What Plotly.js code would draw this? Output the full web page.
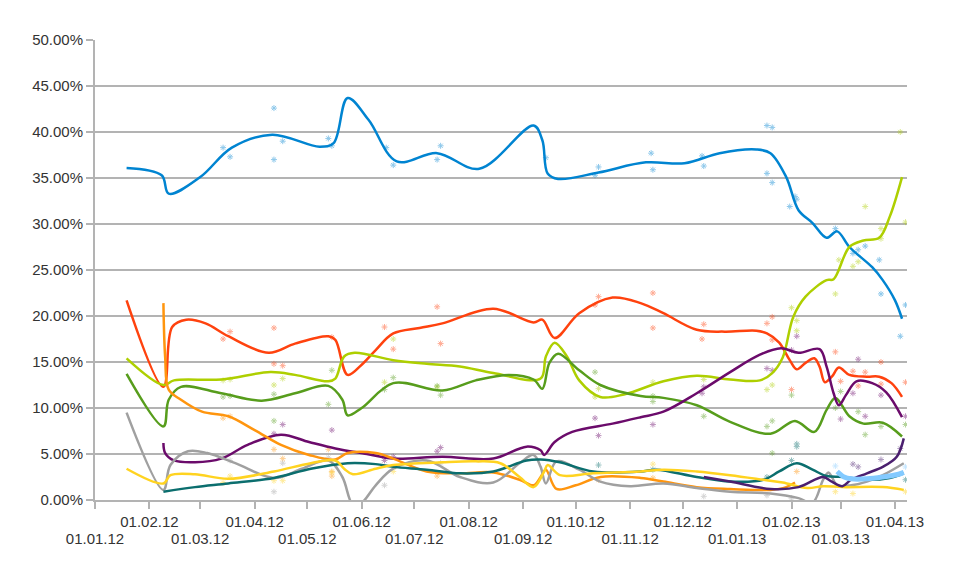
<!DOCTYPE html>
<html>
<head>
<meta charset="utf-8">
<script src="https://cdn.plot.ly/plotly-3.0.1.min.js"></script>
<style>
html,body{margin:0;padding:0;background:#fff;}
#chart{width:960px;height:577px;}
</style>
</head>
<body>
<div id="chart"></div>
<script>
// ---- tick labels ----
const tickDatesUpper = ['2012-02-01','2012-04-01','2012-06-01','2012-08-01','2012-10-01','2012-12-01','2013-02-01','2013-04-01'];
const tickLabelsUpper = ['01.02.12','01.04.12','01.06.12','01.08.12','01.10.12','01.12.12','01.02.13','01.04.13'];
const tickDatesLower = ['2012-01-01','2012-03-01','2012-05-01','2012-07-01','2012-09-01','2012-11-01','2013-01-01','2013-03-01'];
const tickLabelsLower = ['01.01.12','01.03.12','01.05.12','01.07.12','01.09.12','01.11.12','01.01.13','01.03.13'];
const yTicks = [0,5,10,15,20,25,30,35,40,45,50];
const yTickLabels = ['0.00%','5.00%','10.00%','15.00%','20.00%','25.00%','30.00%','35.00%','40.00%','45.00%','50.00%'];

// ---- smoothed trend lines ----
const blueDates = ['2012-01-19','2012-02-08','2012-02-12','2012-03-01','2012-03-19','2012-04-11','2012-05-08','2012-05-16','2012-05-24','2012-06-05','2012-06-21','2012-07-14','2012-08-07','2012-09-07','2012-09-12','2012-09-15','2012-09-21','2012-10-14','2012-11-10','2012-12-02','2012-12-22','2013-01-12','2013-01-20','2013-01-29','2013-02-05','2013-02-13','2013-02-21','2013-02-27','2013-03-06','2013-03-19','2013-03-25','2013-04-01','2013-04-05'];
const blueValues = [36.1,35.3,33.3,35.1,38.3,39.7,38.4,38.8,43.7,41.3,36.8,37.7,36.0,40.7,39.1,35.5,34.9,35.6,36.7,36.6,37.7,38.1,37.7,35.1,31.5,30.1,28.5,29.2,27.5,25.3,23.9,21.7,19.7];

const redDates = ['2012-01-19','2012-02-09','2012-02-14','2012-02-22','2012-03-04','2012-03-17','2012-04-09','2012-04-24','2012-05-13','2012-05-17','2012-05-24','2012-06-01','2012-06-09','2012-06-19','2012-07-04','2012-07-17','2012-08-15','2012-09-07','2012-09-12','2012-09-19','2012-10-03','2012-10-22','2012-11-07','2012-11-20','2012-12-09','2012-12-25','2013-01-12','2013-01-18','2013-01-25','2013-01-31','2013-02-04','2013-02-09','2013-02-14','2013-02-17','2013-02-20','2013-02-24','2013-02-28','2013-03-06','2013-03-16','2013-03-23','2013-03-30','2013-04-05'];
const redValues = [21.7,12.3,18.8,19.6,19.2,17.8,16.0,17.0,17.8,17.4,13.6,14.7,16.3,18.1,18.7,19.2,20.8,19.3,19.6,17.6,20.3,22.0,21.4,20.3,18.5,18.3,18.4,18.1,17.1,15.2,14.2,14.9,15.4,14.5,12.8,13.4,14.4,13.6,13.4,13.4,12.7,11.2];

const limeDates = ['2012-01-19','2012-02-09','2012-02-15','2012-03-13','2012-04-10','2012-04-24','2012-05-13','2012-05-17','2012-05-22','2012-05-28','2012-06-19','2012-07-08','2012-07-27','2012-08-15','2012-09-11','2012-09-14','2012-09-19','2012-09-26','2012-10-03','2012-10-15','2012-10-29','2012-11-20','2012-12-09','2012-12-28','2013-01-14','2013-01-21','2013-01-27','2013-02-02','2013-02-09','2013-02-21','2013-02-25','2013-03-06','2013-03-14','2013-03-23','2013-03-29','2013-04-05'];
const limeValues = [15.4,12.5,13.0,13.1,13.9,13.6,12.9,13.2,15.6,16.0,15.2,14.8,14.5,13.8,13.2,15.6,17.1,15.6,13.0,11.2,11.5,12.9,13.5,13.1,13.0,13.8,15.5,19.9,22.1,23.9,24.0,27.5,28.2,28.5,30.8,35.1];

const greenDates = ['2012-01-19','2012-02-09','2012-02-12','2012-02-19','2012-03-13','2012-04-05','2012-04-24','2012-05-13','2012-05-21','2012-05-24','2012-06-01','2012-06-19','2012-07-17','2012-08-05','2012-08-24','2012-09-07','2012-09-12','2012-09-16','2012-09-21','2012-10-03','2012-10-15','2012-11-07','2012-11-20','2012-12-09','2012-12-28','2013-01-20','2013-02-03','2013-02-14','2013-02-21','2013-02-26','2013-03-06','2013-03-14','2013-03-25','2013-04-05'];
const greenValues = [13.7,8.0,10.9,12.3,11.6,10.8,11.6,12.4,10.9,9.2,10.0,12.7,11.9,13.0,13.6,13.1,12.1,14.9,15.9,14.1,12.5,11.3,11.1,10.3,8.5,7.2,8.6,7.4,9.8,11.1,9.1,8.3,8.4,6.9];

const purpleDates = ['2012-02-09','2012-02-10','2012-02-15','2012-02-27','2012-03-13','2012-03-28','2012-04-16','2012-05-02','2012-05-17','2012-06-04','2012-06-19','2012-07-17','2012-08-15','2012-09-03','2012-09-11','2012-09-13','2012-09-19','2012-09-29','2012-10-22','2012-11-07','2012-11-20','2012-12-09','2012-12-28','2013-01-14','2013-01-26','2013-02-05','2013-02-17','2013-02-21','2013-02-25','2013-02-28','2013-03-04','2013-03-10','2013-03-19','2013-03-27','2013-04-05'];
const purpleValues = [6.2,5.1,4.3,4.1,4.5,6.0,7.1,6.3,5.6,5.0,4.5,4.7,4.5,5.8,5.4,4.9,6.3,7.4,8.3,9.0,9.6,11.6,13.9,15.8,16.5,16.0,16.4,14.5,11.6,10.3,11.4,12.9,12.7,11.7,9.0];

const plumDates = ['2012-12-13','2012-12-28','2013-01-20','2013-02-05','2013-02-19','2013-02-24','2013-03-02','2013-03-07','2013-03-16','2013-03-25','2013-04-02','2013-04-06'];
const plumValues = [2.5,2.0,1.2,1.4,2.5,2.0,1.5,2.2,2.9,3.6,4.7,6.7];

const orangeDates = ['2012-02-09','2012-02-10','2012-02-12','2012-02-19','2012-03-02','2012-03-17','2012-04-01','2012-04-16','2012-05-02','2012-05-17','2012-05-24','2012-06-09','2012-06-19','2012-07-08','2012-07-27','2012-08-15','2012-08-30','2012-09-07','2012-09-11','2012-09-14','2012-09-20','2012-10-01','2012-10-15','2012-11-07','2012-11-20','2012-12-09','2012-12-28','2013-01-20','2013-01-29','2013-02-03'];
const orangeValues = [21.4,15.5,12.0,10.9,9.6,9.1,7.6,6.0,4.9,4.4,5.1,5.1,4.5,3.1,2.9,3.0,2.2,1.6,2.5,3.3,1.2,1.6,2.5,2.4,2.0,1.4,1.2,1.1,1.4,1.9];

const grayDates = ['2012-01-19','2012-02-09','2012-02-13','2012-02-23','2012-03-05','2012-03-21','2012-04-12','2012-04-28','2012-05-13','2012-05-21','2012-05-27','2012-06-01','2012-06-09','2012-06-19','2012-07-08','2012-07-27','2012-08-15','2012-08-30','2012-09-07','2012-09-11','2012-09-14','2012-09-20','2012-10-03','2012-10-15','2012-11-01','2012-11-20','2012-12-09','2012-12-28','2013-01-20','2013-02-05','2013-02-13','2013-02-19','2013-02-22','2013-02-24','2013-02-27','2013-03-07','2013-03-16','2013-03-25','2013-04-06'];
const grayValues = [9.5,1.1,3.8,5.3,5.1,4.0,2.4,3.4,4.3,2.5,-0.5,-0.3,1.6,3.4,4.3,2.5,1.9,4.0,4.9,3.6,1.8,4.2,3.3,2.0,1.5,1.8,1.3,0.9,0.7,0.2,-0.3,2.2,3.0,2.5,1.6,1.6,2.0,2.7,4.0];

const tealDates = ['2012-02-09','2012-02-27','2012-03-17','2012-04-12','2012-05-03','2012-05-24','2012-06-09','2012-06-19','2012-07-08','2012-07-27','2012-08-15','2012-09-03','2012-09-11','2012-09-22','2012-10-11','2012-11-07','2012-11-16','2012-12-09','2012-12-28','2013-01-16','2013-01-25','2013-02-04','2013-02-13','2013-02-21','2013-03-03','2013-03-16','2013-03-29','2013-04-06'];
const tealValues = [0.9,1.4,1.8,2.4,3.4,4.0,3.9,3.6,3.3,2.9,3.1,4.3,4.4,4.1,3.1,3.1,3.3,2.5,2.0,2.2,3.1,4.0,3.3,2.6,2.5,2.2,2.4,2.9];

const yellowDates = ['2012-01-19','2012-02-09','2012-02-13','2012-02-27','2012-03-17','2012-04-12','2012-05-03','2012-05-17','2012-05-22','2012-05-27','2012-06-09','2012-06-19','2012-07-17','2012-08-05','2012-08-19','2012-08-30','2012-09-07','2012-09-13','2012-09-15','2012-09-22','2012-10-11','2012-11-07','2012-11-20','2012-12-09','2012-12-28','2013-01-16','2013-01-27','2013-02-10','2013-02-19','2013-03-02','2013-03-25','2013-04-06'];
const yellowValues = [3.4,1.8,2.7,2.8,2.3,3.1,4.0,4.3,3.4,2.8,3.4,3.8,4.1,4.2,4.0,2.5,1.4,3.1,3.8,2.7,2.9,3.1,3.3,3.1,2.7,2.2,1.9,1.3,1.5,1.4,1.4,1.1];

const skyDates = ['2013-02-27','2013-03-03','2013-03-07','2013-03-16','2013-03-25','2013-04-03','2013-04-06'];
const skyValues = [3.1,2.5,2.3,2.3,2.5,2.8,3.0];

// ---- individual poll results (asterisks) ----
const bluePollDates = ['2012-03-14','2012-03-18','2012-04-12','2012-04-12','2012-04-17','2012-05-13','2012-05-15','2012-06-15','2012-06-19','2012-07-14','2012-07-16','2012-09-14','2012-10-12','2012-10-14','2012-11-13','2012-11-14','2012-12-12','2012-12-13','2013-01-18','2013-01-21','2013-01-18','2013-01-21','2013-01-31','2013-02-03','2013-02-04','2013-02-26','2013-03-08','2013-03-11','2013-03-15','2013-03-23','2013-03-24','2013-04-04','2013-04-07'];
const bluePollValues = [38.3,37.3,42.6,37.0,39.0,39.3,38.5,38.3,36.4,37.0,38.5,37.2,35.3,36.2,37.7,35.9,37.4,36.3,40.7,40.5,35.5,34.5,31.9,33.0,32.7,29.5,26.8,27.2,27.6,26.1,22.4,17.8,21.2];

const redPollDates = ['2012-03-14','2012-03-18','2012-04-12','2012-04-12','2012-04-17','2012-05-15','2012-06-14','2012-06-19','2012-07-14','2012-07-16','2012-10-12','2012-10-14','2012-11-14','2012-11-14','2012-12-12','2012-12-13','2013-01-18','2013-01-21','2013-01-21','2013-02-01','2013-02-26','2013-03-01','2013-03-08','2013-03-11','2013-03-15','2013-03-24','2013-03-24','2013-04-07'];
const redPollValues = [17.5,18.3,18.7,14.8,14.6,17.7,18.8,16.4,21.0,17.0,21.2,22.1,22.5,18.7,17.5,19.1,19.2,19.9,17.4,12.0,16.1,12.9,14.0,12.4,13.9,15.0,12.6,12.8];

const limePollDates = ['2012-03-14','2012-03-18','2012-04-12','2012-04-17','2012-06-14','2012-06-19','2012-07-14','2012-10-12','2012-10-14','2012-11-14','2012-12-13','2013-01-18','2013-01-21','2013-02-01','2013-02-04','2013-02-04','2013-02-26','2013-02-28','2013-03-08','2013-03-11','2013-03-15','2013-03-24','2013-03-24','2013-04-04','2013-04-07'];
const limePollValues = [13.0,13.1,12.5,13.2,12.8,17.5,12.3,11.2,12.1,12.8,13.1,12.0,12.5,20.9,19.5,18.4,22.4,26.1,25.4,25.9,31.9,29.5,28.4,40.0,30.2];

const greenPollDates = ['2012-03-14','2012-03-18','2012-04-12','2012-04-12','2012-05-13','2012-05-15','2012-06-14','2012-06-19','2012-07-14','2012-07-16','2012-10-12','2012-11-14','2012-11-14','2012-12-13','2013-01-18','2013-01-21','2013-01-21','2013-02-01','2013-02-26','2013-03-01','2013-03-11','2013-03-15','2013-03-24','2013-04-07'];
const greenPollValues = [11.2,11.3,11.5,8.6,10.4,14.1,12.0,13.3,12.4,11.4,13.9,11.3,10.7,9.1,8.0,8.6,5.1,11.4,10.0,11.8,9.6,7.1,8.0,8.2];

const purplePollDates = ['2012-04-12','2012-04-17','2012-05-15','2012-06-14','2012-06-19','2012-07-14','2012-07-16','2012-10-12','2012-10-14','2012-11-14','2012-12-12','2012-12-13','2013-01-18','2013-01-21','2013-02-01','2013-02-04','2013-03-01','2013-03-08','2013-03-11','2013-03-15','2013-03-24','2013-04-07'];
const purplePollValues = [7.2,8.2,7.6,4.3,4.7,5.3,5.7,8.9,7.0,8.2,11.6,12.3,14.3,14.1,16.3,17.8,8.8,11.6,15.3,9.1,11.4,9.1];

const plumPollDates = ['2013-03-08','2013-03-11','2013-03-24','2013-04-04'];
const plumPollValues = [3.9,3.6,4.4,5.6];

const orangePollDates = ['2012-03-14','2012-03-18','2012-04-12','2012-04-17','2012-05-13','2012-05-15','2012-05-15','2012-07-14','2012-10-14','2012-11-14','2013-02-04'];
const orangePollValues = [8.9,9.1,5.5,4.5,5.5,3.1,2.6,2.6,2.2,2.4,3.1];

const grayPollDates = ['2012-03-14','2012-03-18','2012-04-12','2012-04-17','2012-05-13','2012-06-14','2012-07-16','2012-12-13','2013-01-18','2013-02-01'];
const grayPollValues = [4.8,4.3,0.9,4.0,4.6,1.6,4.0,0.4,0.5,0.2];

const tealPollDates = ['2012-10-14','2012-11-14','2013-01-18','2013-02-01','2013-02-04','2013-02-04','2013-04-07'];
const tealPollValues = [3.8,3.3,2.5,4.3,6.1,5.8,2.2];

const yellowPollDates = ['2012-03-14','2012-03-18','2012-04-12','2012-04-17','2012-05-15','2012-06-19','2012-11-14','2013-02-26','2013-03-08','2013-04-07'];
const yellowPollValues = [1.9,2.6,2.1,2.1,3.0,3.1,3.9,0.9,0.7,0.9];

const skyPollDates = ['2013-02-26','2013-04-07'];
const skyPollValues = [3.7,3.6];

// ---- styles ----
const series = [
  {d: bluePollDates, v: bluePollValues, ld: blueDates, lv: blueValues, c: '#0084d1', w: 2.5},
  {d: redPollDates, v: redPollValues, ld: redDates, lv: redValues, c: '#ff420e', w: 2.5},
  {d: limePollDates, v: limePollValues, ld: limeDates, lv: limeValues, c: '#aecf00', w: 2.5},
  {d: greenPollDates, v: greenPollValues, ld: greenDates, lv: greenValues, c: '#579d1c', w: 2.5},
  {d: purplePollDates, v: purplePollValues, ld: purpleDates, lv: purpleValues, c: '#6b0b6b', w: 2.5},
  {d: orangePollDates, v: orangePollValues, ld: orangeDates, lv: orangeValues, c: '#ff950e', w: 2.5},
  {d: grayPollDates, v: grayPollValues, ld: grayDates, lv: grayValues, c: '#a0a0a0', w: 2.5},
  {d: tealPollDates, v: tealPollValues, ld: tealDates, lv: tealValues, c: '#0b6e6e', w: 2.5},
  {d: yellowPollDates, v: yellowPollValues, ld: yellowDates, lv: yellowValues, c: '#ffd320', w: 2.5},
  {d: plumPollDates, v: plumPollValues, ld: plumDates, lv: plumValues, c: '#4b1f6f', w: 2.5},
  {d: skyPollDates, v: skyPollValues, ld: skyDates, lv: skyValues, c: '#83caff', w: 5}
];

const traces = [];
series.forEach((s, i) => {
  traces.push({
    x: s.d, y: s.v, type: 'scatter', mode: 'markers', hoverinfo: 'skip',
    xaxis: i === series.length - 1 ? 'x2' : 'x',
    opacity: 0.45,
    marker: {symbol: 'asterisk-open', size: 5, color: s.c, line: {color: s.c, width: 1}}
  });
});
series.forEach(s => {
  traces.push({
    x: s.ld, y: s.lv, type: 'scatter', mode: 'lines', hoverinfo: 'skip',
    line: {color: s.c, width: s.w, shape: 'spline', smoothing: 1}
  });
});

const xRange = ['2012-01-01', '2013-04-07 20:00'];
const axisCommon = {
  type: 'date', range: xRange, tickmode: 'array', tickangle: 0,
  showgrid: false, zeroline: false,
  showline: true, linecolor: '#b3b3b3', linewidth: 2,
  ticks: 'outside', ticklen: 7, tickwidth: 2, tickcolor: '#b3b3b3',
  tickfont: {size: 15, color: '#333333'}
};

const layout = {
  width: 960, height: 577,
  margin: {l: 95, r: 53, t: 40, b: 77},
  paper_bgcolor: '#ffffff', plot_bgcolor: '#ffffff',
  showlegend: false,
  font: {family: '"Liberation Sans", Arial, sans-serif', size: 15, color: '#333333'},
  xaxis: Object.assign({}, axisCommon, {tickvals: tickDatesUpper, ticktext: tickLabelsUpper}),
  xaxis2: Object.assign({}, axisCommon, {tickvals: tickDatesLower, ticktext: tickLabelsLower,
    overlaying: 'x', anchor: 'y', side: 'bottom', ticklabelstandoff: 17}),
  yaxis: {
    range: [0, 50],
    tickmode: 'array', tickvals: yTicks, ticktext: yTickLabels,
    showgrid: true, gridcolor: '#b3b3b3', gridwidth: 1.5,
    zeroline: false,
    showline: true, linecolor: '#b3b3b3', linewidth: 2,
    ticks: 'outside', ticklen: 7, tickwidth: 2, tickcolor: '#b3b3b3',
    tickfont: {size: 15, color: '#333333'}
  },
  hovermode: false
};

Plotly.newPlot('chart', traces, layout, {displayModeBar: false, staticPlot: true});
</script>
</body>
</html>
